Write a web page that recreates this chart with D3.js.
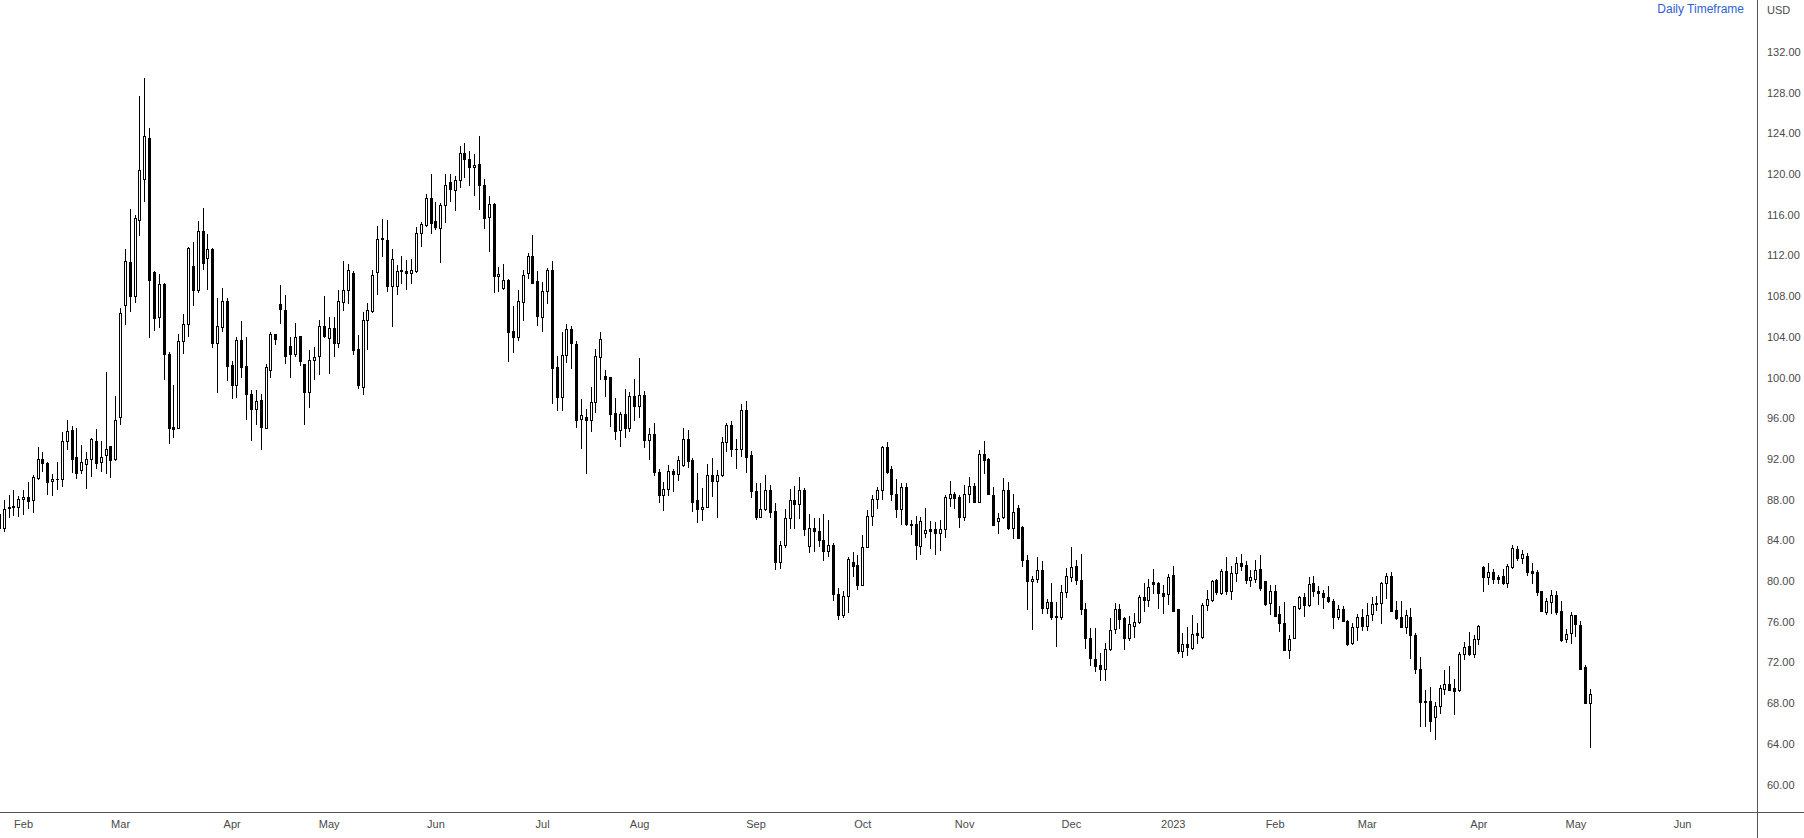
<!DOCTYPE html>
<html>
<head>
<meta charset="utf-8">
<script src="https://cdn.jsdelivr.net/npm/d3@7"></script>
<style>
  html, body { margin: 0; padding: 0; background: #ffffff; }
  svg { display: block; }
  text { font-family: "Liberation Sans", Arial, sans-serif; }
</style>
</head>
<body>
<svg id="chart" width="1804" height="838"></svg>
<script>
// ---- DATA (daily OHLC, USD) ----
const opens = [86.6,85.2,87.3,87.25,87.25,88.1,88.3,88.0,90.1,91.95,91.6,89.8,90.0,90.0,93.8,94.8,92.15,90.9,91.5,91.95,93.8,91.7,92.4,93.25,91.95,96.1,107.1,111.3,108.0,115.5,119.5,123.5,110.4,105.9,109.2,102.3,95.1,95.0,103.6,105.3,110.95,108.6,114.35,111.7,112.6,103.4,105.0,107.5,101.2,99.3,103.7,101.1,98.35,96.95,97.8,95.05,100.75,104.25,107.2,106.6,103.1,102.35,104.05,101.3,98.55,101.7,102.1,105.1,103.85,104.9,103.4,107.45,108.6,110.3,102.8,99.05,105.65,106.55,110.4,113.6,113.55,109.0,109.0,110.5,110.45,110.25,110.45,114.15,115.0,117.6,115.4,114.7,116.9,119.2,118.4,119.4,122.1,121.5,120.7,121.0,118.9,115.75,117.05,109.95,108.75,109.6,104.55,103.95,107.45,110.25,111.95,109.5,105.9,108.45,110.55,101.0,98.1,102.2,104.75,103.3,95.9,96.1,95.8,97.55,101.98,100.15,100.0,96.5,94.8,96.4,95.0,98.2,97.2,98.3,93.9,94.4,90.7,88.5,89.0,90.8,90.5,91.4,94.0,91.9,87.95,87.05,87.3,90.4,89.85,90.4,93.7,95.35,92.95,92.95,96.85,92.35,88.85,86.3,87.05,88.95,86.85,81.9,83.5,86.15,88.0,87.6,88.95,83.4,85.25,84.9,84.0,83.0,83.5,78.7,76.7,78.5,81.85,81.55,79.65,83.3,86.4,88.05,88.95,93.15,91.0,88.6,87.05,89.2,85.65,85.65,83.45,84.75,85.1,85.1,84.75,85.1,88.2,88.6,88.3,86.3,88.55,89.35,87.8,92.5,92.0,88.45,85.9,86.25,88.95,85.25,87.15,85.35,82.1,80.05,80.25,81.1,77.4,77.9,76.55,76.5,78.95,80.35,81.45,80.15,77.3,74.45,72.35,71.75,71.4,73.3,75.25,77.3,76.35,74.45,75.6,75.95,78.4,78.15,79.95,79.85,78.8,78.7,80.6,77.25,73.15,73.85,73.45,74.85,74.55,77.6,78.15,80.1,78.8,81.0,79.05,80.75,81.8,81.6,80.1,80.25,81.2,80.0,77.8,79.0,76.75,75.85,73.25,74.45,77.4,78.4,77.6,79.85,79.0,78.8,78.4,78.05,76.5,77.3,76.1,73.9,75.5,76.45,75.6,76.75,77.8,77.8,79.8,80.5,77.2,76.45,75.5,76.45,74.65,71.4,68.2,68.2,66.6,67.75,69.35,69.85,69.45,69.25,72.8,73.6,72.8,74.3,81.35,80.35,80.9,80.35,80.5,79.85,81.35,83.1,82.3,82.45,81.0,80.85,79.0,77.0,77.9,78.65,77.05,74.3,74.85,76.65,75.7,71.6,68.05];
const highs = [87.0,88.0,88.5,88.9,88.4,88.9,89.7,90.4,93.2,92.7,91.7,90.5,91.7,94.65,95.8,95.2,95.0,93.4,92.7,94.1,94.95,93.8,100.5,93.3,98.2,106.8,112.6,116.6,116.0,127.7,129.4,124.5,110.45,110.2,109.25,102.5,99.3,104.25,106.2,112.8,113.3,115.4,116.65,114.1,112.7,107.8,108.75,107.8,101.6,103.95,105.55,104.0,98.75,98.75,98.4,101.3,104.45,104.3,109.1,108.15,104.0,105.35,104.1,101.35,102.75,102.95,105.6,108.0,105.9,105.9,108.6,111.4,111.15,110.45,104.15,106.45,107.35,110.6,114.9,115.55,115.45,112.6,111.05,111.95,111.5,111.65,114.8,115.25,118.0,120.0,117.2,117.1,120.0,120.0,119.8,122.7,123.0,122.3,122.0,123.7,119.5,117.8,117.1,110.9,111.15,109.7,107.0,108.6,110.55,112.25,114.0,110.45,109.35,110.8,111.45,102.1,104.5,105.25,105.05,103.6,97.9,96.9,99.1,102.8,104.5,100.7,100.0,98.0,96.6,98.9,98.6,99.85,101.95,98.67,95.0,95.5,91.0,89.7,91.4,91.0,92.3,95.05,94.85,92.05,90.6,89.1,91.5,92.05,90.95,94.2,95.5,95.7,94.0,97.4,97.7,92.75,89.6,89.6,90.4,89.45,87.7,83.9,87.1,89.0,89.3,90.2,89.1,86.6,86.2,86.15,86.6,86.0,83.7,79.3,79.0,82.4,82.9,82.55,84.5,87.0,88.45,89.25,93.3,93.7,91.3,90.0,89.6,89.65,86.0,86.4,86.25,87.2,85.9,85.85,86.0,88.45,89.85,88.7,88.45,89.45,90.25,89.6,92.85,93.75,92.05,89.2,86.65,90.1,89.75,88.6,87.45,85.4,82.6,80.5,82.4,81.95,78.2,79.85,77.95,79.6,81.3,83.35,82.1,82.7,77.8,75.35,75.35,72.9,73.95,76.4,77.8,77.7,76.5,76.55,76.9,78.6,79.85,80.25,81.15,79.9,79.6,80.65,81.5,77.3,74.9,75.45,76.65,75.85,77.8,79.1,80.1,80.25,81.15,82.4,81.5,82.4,82.7,81.95,81.1,82.05,82.55,80.05,79.6,79.6,77.55,77.9,74.7,77.55,78.55,78.85,80.35,80.45,79.5,79.1,79.5,78.2,77.65,77.55,76.15,75.9,76.75,77.3,77.8,78.45,78.55,79.95,80.75,80.9,78.05,78.05,77.15,77.4,74.85,72.5,69.3,69.6,68.15,69.8,71.25,71.7,70.4,73.0,74.05,75.0,74.65,75.65,81.5,81.8,81.15,80.6,81.15,81.7,83.55,83.45,83.05,82.8,81.8,81.1,79.05,78.3,79.1,79.05,78.0,75.3,77.0,76.7,76.1,71.75,69.35];
const lows = [84.0,84.9,86.3,86.5,86.4,86.6,87.2,86.8,90.0,90.85,88.6,88.5,89.0,89.3,93.0,90.75,90.1,90.65,89.1,90.3,91.1,90.8,90.6,90.2,91.9,95.4,105.3,106.5,107.4,114.0,117.3,104.0,104.7,105.0,99.9,93.6,94.2,95.0,102.4,104.1,107.1,108.4,110.65,108.7,102.95,98.6,104.6,99.8,97.95,98.1,100.0,95.9,93.9,95.4,93.0,95.0,100.0,103.25,105.4,101.45,100.0,102.1,101.2,95.4,97.1,99.9,100.3,103.95,100.4,102.15,103.0,106.6,107.3,102.3,99.0,98.35,102.8,106.4,108.25,111.9,108.5,105.05,108.2,109.25,108.7,109.3,110.4,112.95,114.9,114.2,114.6,111.3,115.3,117.3,116.5,118.7,119.7,118.9,117.9,116.6,114.7,112.4,108.4,108.45,108.7,101.65,102.5,103.7,105.65,109.75,109.3,105.15,104.6,107.35,97.5,96.85,96.85,101.55,100.95,95.1,93.1,90.6,94.7,96.6,99.9,98.2,95.2,94.0,93.3,94.2,94.7,95.8,96.1,93.2,92.0,90.4,87.8,87.0,88.5,88.8,89.9,91.3,91.25,86.9,85.85,86.0,87.3,88.4,86.3,90.35,92.75,92.3,91.15,92.3,90.7,88.3,86.05,86.3,86.95,86.25,81.2,81.3,83.3,85.2,85.2,86.2,84.5,82.9,83.0,83.4,82.1,82.5,78.1,76.3,76.5,77.0,80.45,79.2,79.65,83.3,85.55,87.15,88.1,90.6,88.0,86.3,85.6,85.55,84.6,82.15,82.7,84.3,83.2,82.7,83.05,84.3,87.35,87.15,85.35,85.95,87.75,87.75,87.75,90.6,88.55,85.5,84.75,86.2,85.15,84.2,84.2,81.45,77.3,75.3,79.95,76.9,76.9,76.25,73.65,76.25,78.45,80.0,79.7,76.75,73.45,71.75,71.2,70.25,70.25,73.2,74.9,75.4,73.3,74.2,74.5,75.85,77.1,77.55,78.8,77.4,76.9,77.75,77.05,72.9,72.55,72.75,73.3,73.95,74.45,77.15,78.05,78.75,78.75,78.75,78.25,80.0,81.1,79.8,79.55,79.95,79.1,77.65,76.75,76.55,75.05,73.2,72.4,74.45,77.3,76.6,77.55,78.55,77.7,77.4,77.95,75.4,76.25,76.05,73.75,73.85,74.2,75.2,75.15,76.15,77.2,75.9,78.35,77.05,76.25,75.45,74.85,72.4,70.95,65.8,65.8,65.3,64.5,67.0,68.95,69.25,66.9,69.2,72.3,72.75,72.55,73.8,79.05,79.7,79.8,79.8,79.7,79.45,81.3,82.05,81.75,80.55,79.85,78.65,77.05,76.75,76.85,76.75,74.15,74.05,73.95,74.6,71.35,68.0,63.7];
const closes = [85.2,87.1,87.15,87.4,88.1,88.3,87.9,90.2,91.95,91.55,89.7,90.0,90.05,93.8,94.7,92.0,90.6,91.7,91.95,93.95,91.55,92.2,92.95,91.9,95.8,106.3,111.4,108.0,115.7,120.4,123.7,109.6,105.8,109.2,102.3,95.07,94.95,103.6,105.3,112.7,108.6,114.35,111.2,112.6,103.4,105.05,107.5,101.15,99.3,103.7,101.05,98.35,96.95,97.7,95.15,101.0,104.25,103.75,106.75,102.15,102.35,103.95,101.65,98.55,101.7,102.0,105.1,104.1,104.9,103.4,107.5,108.6,110.55,102.7,99.25,105.65,106.65,110.05,113.65,113.7,109.0,111.6,110.5,110.55,110.25,110.6,114.15,115.1,117.6,115.2,114.8,116.9,118.9,118.5,119.4,122.1,121.5,120.7,120.9,118.9,115.7,117.05,110.0,110.2,109.6,104.45,103.95,107.5,110.05,111.95,109.3,106.0,108.5,110.55,100.9,98.1,102.2,104.75,103.4,95.8,96.3,95.8,97.6,102.1,103.78,99.9,96.4,94.7,96.4,95.0,98.15,97.2,98.3,93.9,94.4,90.7,88.5,89.0,90.8,90.5,91.9,94.0,91.8,87.8,87.05,87.25,90.4,89.85,90.4,93.7,95.35,92.95,93.0,96.85,92.2,88.8,86.3,87.05,88.95,86.8,81.9,83.5,86.15,88.0,87.6,88.95,85.1,85.25,84.9,84.0,83.0,83.5,78.7,76.7,78.5,82.2,81.5,79.65,83.3,86.4,88.05,88.95,93.2,90.75,88.6,87.05,89.2,85.6,85.55,83.55,85.9,85.0,84.95,84.75,85.1,88.3,88.6,88.2,86.3,88.55,89.35,87.8,92.5,91.9,88.6,85.55,86.2,88.95,85.2,86.8,84.25,82.05,80.0,80.25,81.1,77.4,77.9,76.5,76.5,78.9,80.5,81.35,80.15,77.3,74.45,72.4,71.7,71.4,73.3,75.2,77.3,76.25,74.45,75.75,75.95,78.4,78.15,79.4,79.7,78.8,78.55,80.35,77.1,73.15,73.85,73.55,74.75,74.65,77.65,78.2,80.0,78.95,81.0,79.05,80.8,81.75,81.5,80.1,80.35,81.1,79.3,77.7,79.05,76.6,75.9,73.25,74.35,77.5,78.4,77.6,79.7,79.05,78.8,78.45,78.0,76.5,77.3,76.1,73.8,75.5,76.45,75.6,76.65,77.7,77.7,79.85,80.5,77.1,76.4,75.5,76.65,74.65,71.35,68.15,68.15,66.2,67.7,69.45,69.85,69.3,69.15,72.85,73.55,72.8,74.3,75.6,80.35,80.9,80.25,80.25,79.85,81.5,83.2,82.3,82.65,80.85,80.8,78.95,77.1,78.0,78.65,77.0,74.25,74.75,76.65,75.75,71.4,68.05,68.9];

const priceTicks = [60,64,68,72,76,80,84,88,92,96,100,104,108,112,116,120,124,128,132];
const monthLabels = ["Feb","Mar","Apr","May","Jun","Jul","Aug","Sep","Oct","Nov","Dec","2023","Feb","Mar","Apr","May","Jun"];
const monthBarIndex = [5,25,48,68,90,112,132,156,178,199,221,242,263,282,305,325,347];
const currencyLabel = "USD";
const titleLabel = "Daily Timeframe";

// ---- LAYOUT ----
const W = 1804, H = 838;
const axisX = 1757;      // right price-axis border
const axisY = 812;       // bottom time-axis border
const svg = d3.select("#chart");
svg.append("rect").attr("width", W).attr("height", H).attr("fill", "#ffffff");

const n = opens.length;
const x = d3.scaleLinear().domain([0, n - 1]).range([-1.2, -1.2 + (n - 1) * 4.851]);
const y = d3.scaleLinear().domain([60, 132]).range([784.6, 51.8]);

const plot = svg.append("g");

const data = d3.range(n).map(i => ({i, o: opens[i], h: highs[i], l: lows[i], c: closes[i]}));

const px = d => Math.round(x(d.i)); // center pixel column

// wicks
plot.selectAll("line.wick").data(data).enter().append("line")
  .attr("class", "wick")
  .attr("x1", d => px(d) + 0.5).attr("x2", d => px(d) + 0.5)
  .attr("y1", d => Math.round(y(d.h))).attr("y2", d => Math.round(y(d.l)) + 1)
  .attr("stroke", "#000").attr("stroke-width", 1);

// bodies
plot.selectAll("rect.body").data(data).enter().append("rect")
  .attr("class", "body")
  .attr("x", d => px(d) - 0.5)
  .attr("width", 2)
  .attr("y", d => Math.round(y(Math.max(d.o, d.c))) + 0.5)
  .attr("height", d => Math.max(0.001, Math.round(y(Math.min(d.o, d.c))) - Math.round(y(Math.max(d.o, d.c)))))
  .attr("fill", d => d.c >= d.o ? "#ffffff" : "#000000")
  .attr("stroke", "#000").attr("stroke-width", 1);

// ---- AXES ----
svg.append("line").attr("x1", 0).attr("x2", W).attr("y1", axisY + 0.5).attr("y2", axisY + 0.5)
  .attr("stroke", "#555").attr("stroke-width", 1);
svg.append("line").attr("x1", axisX + 0.5).attr("x2", axisX + 0.5).attr("y1", 0).attr("y2", H)
  .attr("stroke", "#555").attr("stroke-width", 1);

const priceAxis = d3.axisRight(y).tickValues(priceTicks).tickFormat(d3.format(".2f")).tickSize(0).tickPadding(0);
const pa = svg.append("g").attr("transform", `translate(${axisX + 10},0)`).call(priceAxis);
pa.select(".domain").remove();
pa.selectAll("text").attr("fill", "#4a4a4a").style("font-size", "11px")
  .style("font-family", "'Liberation Sans', Arial, sans-serif");

svg.append("text").attr("x", axisX + 10).attr("y", 14).text(currencyLabel)
  .attr("fill", "#4a4a4a").style("font-size", "11px");

svg.append("text").attr("x", 1744).attr("y", 13).attr("text-anchor", "end").text(titleLabel)
  .attr("fill", "#2f62d4").style("font-size", "12px");

const tAxis = d3.axisBottom(x).tickValues(monthBarIndex).tickFormat((d, k) => monthLabels[k]).tickSize(0).tickPadding(0);
const ta = svg.append("g").attr("transform", `translate(0,${axisY + 8})`).call(tAxis);
ta.select(".domain").remove();
ta.selectAll("text").attr("fill", "#4a4a4a").style("font-size", "11px")
  .style("font-family", "'Liberation Sans', Arial, sans-serif");
</script>
</body>
</html>
